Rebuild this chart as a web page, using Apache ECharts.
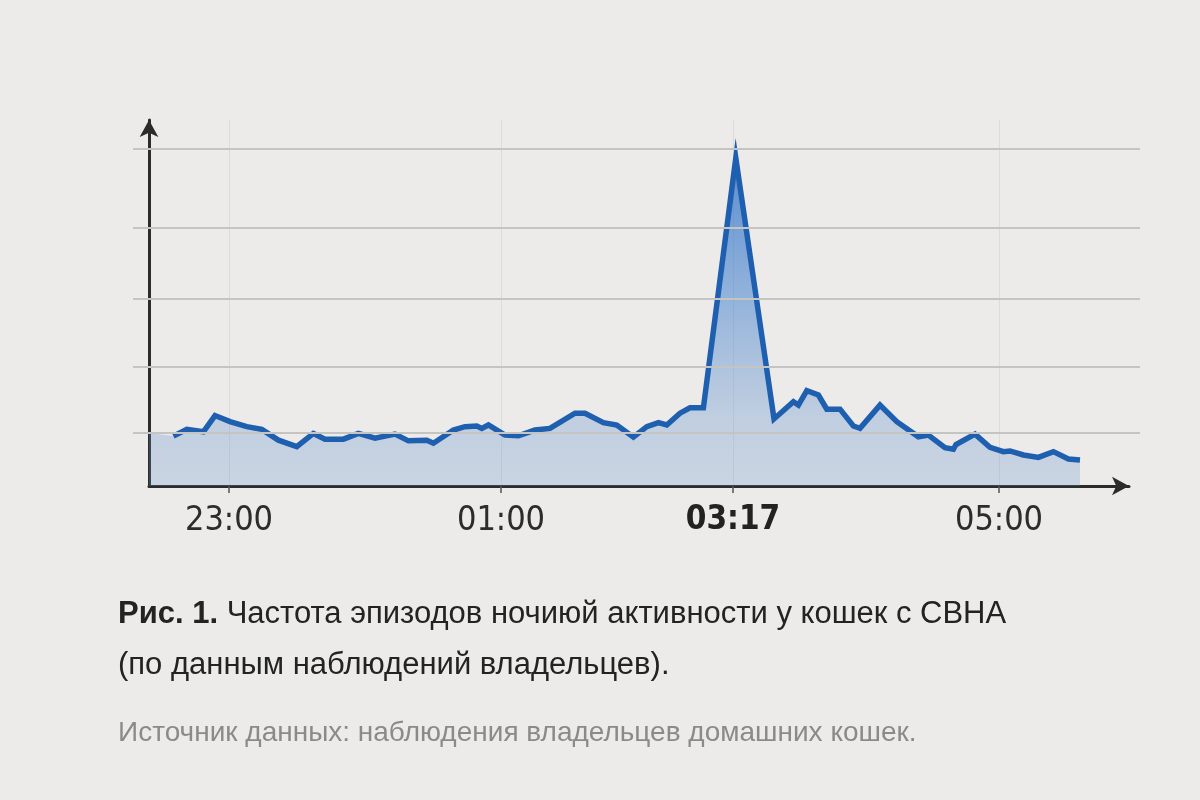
<!DOCTYPE html>
<html>
<head>
<meta charset="utf-8">
<script src="https://cdn.jsdelivr.net/npm/echarts@6/dist/echarts.min.js"></script>
<style>
html,body{margin:0;padding:0;background:#ecebe9;}
#chart{width:1200px;height:800px;}
</style>
</head>
<body>
<div id="chart"></div>
<script>
// ---- data ----
// sample positions along the (non-linear) night-time axis, arbitrary units
var samplePos = [12.2,18.9,27.2,33,40.5,48.9,56.4,64.7,73.9,82.2,
  88,97.2,104.7,113,123,129.7,138.9,142.2,152.2,158,
  163.9,166.4,169.7,178,184.7,193,200.5,213,218,227.2,
  233.9,242.2,248.9,254.7,258.9,265.5,270.5,277.2,293.4,312.5,
  322.2,324.7,328.9,334.7,338.9,345.5,352.2,355.5,365.5,373.9,
  384.7,389.7,398,402.2,403.5,413,420.5,427.2,430.5,437.2,
  444.7,452.2,459.7,465.5];
// activity frequency (relative units, top gridline = 100)
var activity = [14.8,16.8,16.1,20.9,19.1,17.6,16.8,13.6,11.7,15.6,
  13.9,13.9,15.6,14.2,15.4,13.4,13.6,12.7,16.6,17.6,
  17.8,17.1,18.1,15.1,14.9,16.6,17.1,21.6,21.6,18.8,
  18.1,14.5,17.6,18.8,18.1,21.6,23.2,23.2,97.3,19.9,
  25.0,24.0,28.3,27.0,22.8,22.8,17.8,17.1,24.0,19.1,
  14.6,15.1,11.4,10.9,12.3,15.4,11.5,10.2,10.4,9.2,
  8.5,10.2,8.0,7.7];
var leftFillLevel = 15.7;
var gridLevels = [15.7, 35.5, 55.6, 76.7, 100];
var tickLabels = ['23:00', '01:00', '03:17', '05:00'];
var tickPositions = [40, 176, 292, 425];
var highlightLabel = '03:17';
var axisMax = 490;
var valueMax = 108.6;

// ---- build ----
var categories = [];
for (var k = 0; k <= axisMax; k++) {
  var ti = tickPositions.indexOf(k);
  categories.push(ti >= 0 ? tickLabels[ti] : '');
}
var linePoints = samplePos.map(function (x, i) { return [x, activity[i]]; });
var fillPoints = [[0, leftFillLevel]].concat(linePoints);

var fillGradient = new echarts.graphic.LinearGradient(0, 150, 0, 486, [
  { offset: 0, color: 'rgba(35,105,200,0.75)' },
  { offset: 0.45, color: 'rgba(60,125,205,0.5)' },
  { offset: 0.8, color: 'rgba(90,140,205,0.3)' },
  { offset: 1, color: 'rgba(100,145,205,0.25)' }
], true);

var isTick = function (index) { return tickPositions.indexOf(index) >= 0; };
var fontNarrow = "'Liberation Sans Narrow', 'DejaVu Sans Condensed', 'Liberation Sans', sans-serif";
var fontCap = "'Liberation Sans', Arial, sans-serif";

var chart = echarts.init(document.getElementById('chart'), null, { renderer: 'canvas' });
chart.setOption({
  backgroundColor: '#ecebe9',
  animation: false,
  title: [
    {
      left: 113, top: 594,
      text: '{b|Рис. 1.} Частота эпизодов ночиюй активности у кошек с СВНА',
      textStyle: {
        fontFamily: fontCap, fontSize: 31, fontWeight: 'normal', color: '#232323',
        rich: { b: { fontFamily: fontCap, fontSize: 31, fontWeight: 'bold', color: '#232323' } }
      }
    },
    {
      left: 113, top: 645,
      text: '(по данным наблюдений владельцев).',
      textStyle: { fontFamily: fontCap, fontSize: 31, fontWeight: 'normal', color: '#232323' }
    },
    {
      left: 113, top: 714,
      text: 'Источник данных: наблюдения владельцев домашних кошек.',
      textStyle: { fontFamily: fontCap, fontSize: 28, fontWeight: 'normal', color: '#8a8a8a' }
    }
  ],
  grid: [
    { left: 133, right: 60, top: 120, bottom: 314 },
    { left: 149, right: 71, top: 120, bottom: 314 }
  ],
  xAxis: [
    { gridIndex: 0, type: 'value', min: 0, max: 1, show: false },
    {
      gridIndex: 1, type: 'category', data: categories, boundaryGap: false,
      axisLine: { show: true, symbol: ['none', 'arrow'], symbolSize: [14, 17],
        lineStyle: { color: '#2b2b2b', width: 3 } },
      axisTick: { show: true, interval: isTick, length: 7, lineStyle: { color: '#555', width: 1.5 } },
      axisLabel: {
        show: true, interval: isTick, margin: 18,
        fontFamily: fontNarrow, fontSize: 34, color: '#2c2c2c',
        formatter: function (v) { return v === highlightLabel ? '{h|' + v + '}' : v; },
        rich: { h: { fontFamily: fontNarrow, fontSize: 33, fontWeight: 'bold', color: '#222' } }
      },
      splitLine: { show: true, interval: isTick, lineStyle: { color: 'rgba(90,90,90,0.1)', width: 1 } }
    },
    { gridIndex: 1, type: 'value', min: 0, max: axisMax, show: false }
  ],
  yAxis: [
    { gridIndex: 0, type: 'value', min: 0, max: valueMax, show: false },
    {
      gridIndex: 1, type: 'value', min: 0, max: valueMax,
      axisLine: { show: true, symbol: ['none', 'arrow'], symbolSize: [14, 17],
        lineStyle: { color: '#2b2b2b', width: 3 } },
      axisTick: { show: false }, axisLabel: { show: false }, splitLine: { show: false }
    }
  ],
  series: [
    {
      type: 'line', xAxisIndex: 0, yAxisIndex: 0, data: [], silent: true, z: 1,
      markLine: {
        silent: true, symbol: ['none', 'none'], label: { show: false },
        lineStyle: { color: '#c4c4c2', width: 2, type: 'solid' },
        data: gridLevels.map(function (g) { return { yAxis: g }; })
      }
    },
    {
      name: 'fill', type: 'line', xAxisIndex: 2, yAxisIndex: 1, data: fillPoints,
      showSymbol: false, silent: true, z: 2,
      lineStyle: { width: 0 },
      areaStyle: { color: fillGradient, opacity: 1 }
    },
    {
      name: 'activity', type: 'line', xAxisIndex: 2, yAxisIndex: 1, data: linePoints,
      showSymbol: false, z: 3,
      lineStyle: { color: '#1f5fb0', width: 5.5, join: 'miter', cap: 'butt' }
    }
  ]
});
</script>
</body>
</html>
